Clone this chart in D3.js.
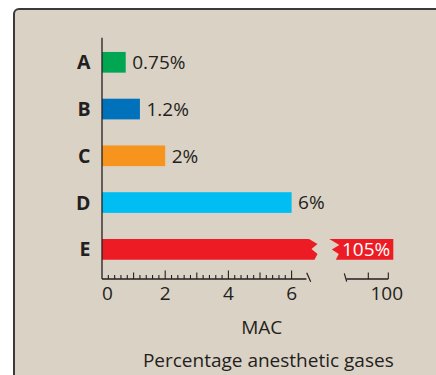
<!DOCTYPE html>
<html>
<head>
<meta charset="utf-8">
<script src="https://cdn.jsdelivr.net/npm/d3@7"></script>
<style>
  html, body { margin: 0; padding: 0; background: #ffffff; }
  svg { display: block; }
  text { font-family: "Open Sans", "Noto Sans", sans-serif; fill: #231f20; }
</style>
</head>
<body>
<script>
// Anesthetic gas potency (MAC), as percentage of gas
const categories = ["A", "B", "C", "D", "E"];
const values = [0.75, 1.2, 2, 6, 105];
const valueLabels = ["0.75%", "1.2%", "2%", "6%", "105%"];
const barColors = ["#00a651", "#0072bc", "#f7941d", "#00bdf2", "#ed1c24"];
const leftTicks = [0, 2, 4, 6];
const rightTicks = [100];
const leftMax = 6.5;     // left segment of the broken axis ends here
const rightMin = 40;     // right segment of the broken axis starts here
const rightMax = 105;

const W = 436, H = 375;
const FS = 19;
const svg = d3.select("body").append("svg").attr("width", W).attr("height", H);

// Panel
svg.append("rect")
  .attr("x", 14).attr("y", 9).attr("width", 440).attr("height", 400)
  .attr("rx", 5).attr("fill", "#dbd2c6")
  .attr("stroke", "#3a3a3a").attr("stroke-width", 2);

const x = d3.scaleLinear().domain([0, leftMax]).range([102, 307.4]);
const xR = d3.scaleLinear().domain([rightMin, rightMax]).range([328.3, 393.3]);
const y = d3.scalePoint().domain(categories).range([62.3, 249.3]);
const barH = 20.7;
const axisY = 279;
const ink = "#231f20";

// Bars
const g = svg.append("g");
categories.forEach((c, i) => {
  const v = values[i];
  const y0 = y(c) - barH / 2;
  if (v <= leftMax) {
    g.append("rect")
      .attr("x", x(0)).attr("y", y0)
      .attr("width", x(v) - x(0)).attr("height", barH)
      .attr("fill", barColors[i]);
    g.append("text")
      .attr("x", x(v) + 6.5).attr("y", y(c) + 6.8)
      .attr("font-size", FS)
      .text(valueLabels[i]);
  } else {
    // broken bar: left piece ends in a zigzag, right piece starts with one
    const bx = x(leftMax) + 1.6;
    const left = [
      [x(0), y0], [bx, y0], [bx + 8.5, y0 + 5], [bx + 2.5, y0 + 10],
      [bx + 8.5, y0 + 15], [bx + 5.5, y0 + barH], [x(0), y0 + barH]
    ];
    const rx = xR(rightMin) + 1;
    const right = [
      [rx, y0], [xR(v), y0], [xR(v), y0 + barH], [rx + 6.5, y0 + barH],
      [rx + 9.5, y0 + 15], [rx + 2.5, y0 + 10.5], [rx + 10, y0 + 6]
    ];
    g.append("path").attr("d", d3.line()(left) + "Z").attr("fill", barColors[i]);
    g.append("path").attr("d", d3.line()(right) + "Z").attr("fill", barColors[i]);
    g.append("text")
      .attr("x", xR(v) - 3).attr("y", y(c) + 6.8)
      .attr("text-anchor", "end")
      .attr("font-size", FS)
      .style("fill", "#ffffff")
      .text(valueLabels[i]);
  }
  // category label
  svg.append("text")
    .attr("x", 90.5).attr("y", y(c) + 7)
    .attr("text-anchor", "end")
    .attr("font-size", 19.5).attr("font-weight", 700)
    .text(c);
});

// Vertical axis line
svg.append("line")
  .attr("x1", x(0)).attr("x2", x(0))
  .attr("y1", 37.7).attr("y2", axisY)
  .attr("stroke", ink).attr("stroke-width", 1.3);

// Left horizontal axis with minor ticks
const axL = svg.append("g").attr("transform", `translate(0,${axisY})`);
axL.append("line")
  .attr("x1", x(0)).attr("x2", x(leftMax) - 1)
  .attr("stroke", ink).attr("stroke-width", 1.3);
const minor = d3.range(0, 6.01, 0.2).map(d => +d.toFixed(1)).filter(d => d > 0);
axL.selectAll("line.tk").data(minor).join("line")
  .attr("class", "tk")
  .attr("x1", d => x(d)).attr("x2", d => x(d))
  .attr("y1", 0)
  .attr("y2", d => Number.isInteger(d) ? (d % 2 === 0 ? -8.5 : -6.5) : -4)
  .attr("stroke", ink).attr("stroke-width", 1.1);
// break mark
axL.append("line")
  .attr("x1", x(leftMax) - 0.7).attr("y1", -6.3)
  .attr("x2", x(leftMax) + 3.3).attr("y2", 2.7)
  .attr("stroke", ink).attr("stroke-width", 1.2);
axL.selectAll("text").data(leftTicks).join("text")
  .attr("x", d => x(d) + (d === 0 ? 5.5 : 0))
  .attr("y", 21.2)
  .attr("text-anchor", "middle")
  .attr("font-size", FS)
  .text(d => d);

// Right horizontal axis segment
const axR = svg.append("g").attr("transform", `translate(0,${axisY})`);
axR.append("line")
  .attr("x1", xR(58)).attr("x2", xR(100))
  .attr("stroke", ink).attr("stroke-width", 1.3);
axR.append("line")
  .attr("x1", xR(56)).attr("y1", -5.7)
  .attr("x2", xR(58.4)).attr("y2", 2.7)
  .attr("stroke", ink).attr("stroke-width", 1.2);
axR.selectAll("line.tk").data([80, 100]).join("line")
  .attr("class", "tk")
  .attr("x1", d => xR(d)).attr("x2", d => xR(d))
  .attr("y1", 0).attr("y2", -6.5)
  .attr("stroke", ink).attr("stroke-width", 1.1);
axR.selectAll("text").data(rightTicks).join("text")
  .attr("x", d => xR(d) - 1.5)
  .attr("y", 21.2)
  .attr("text-anchor", "middle")
  .attr("font-size", FS)
  .text(d => d);

// Axis titles
svg.append("text")
  .attr("x", 261.7).attr("y", 333.5)
  .attr("text-anchor", "middle").attr("font-size", FS)
  .text("MAC");
svg.append("text")
  .attr("x", 268.3).attr("y", 366.8)
  .attr("text-anchor", "middle").attr("font-size", FS)
  .text("Percentage anesthetic gases");
</script>
</body>
</html>
